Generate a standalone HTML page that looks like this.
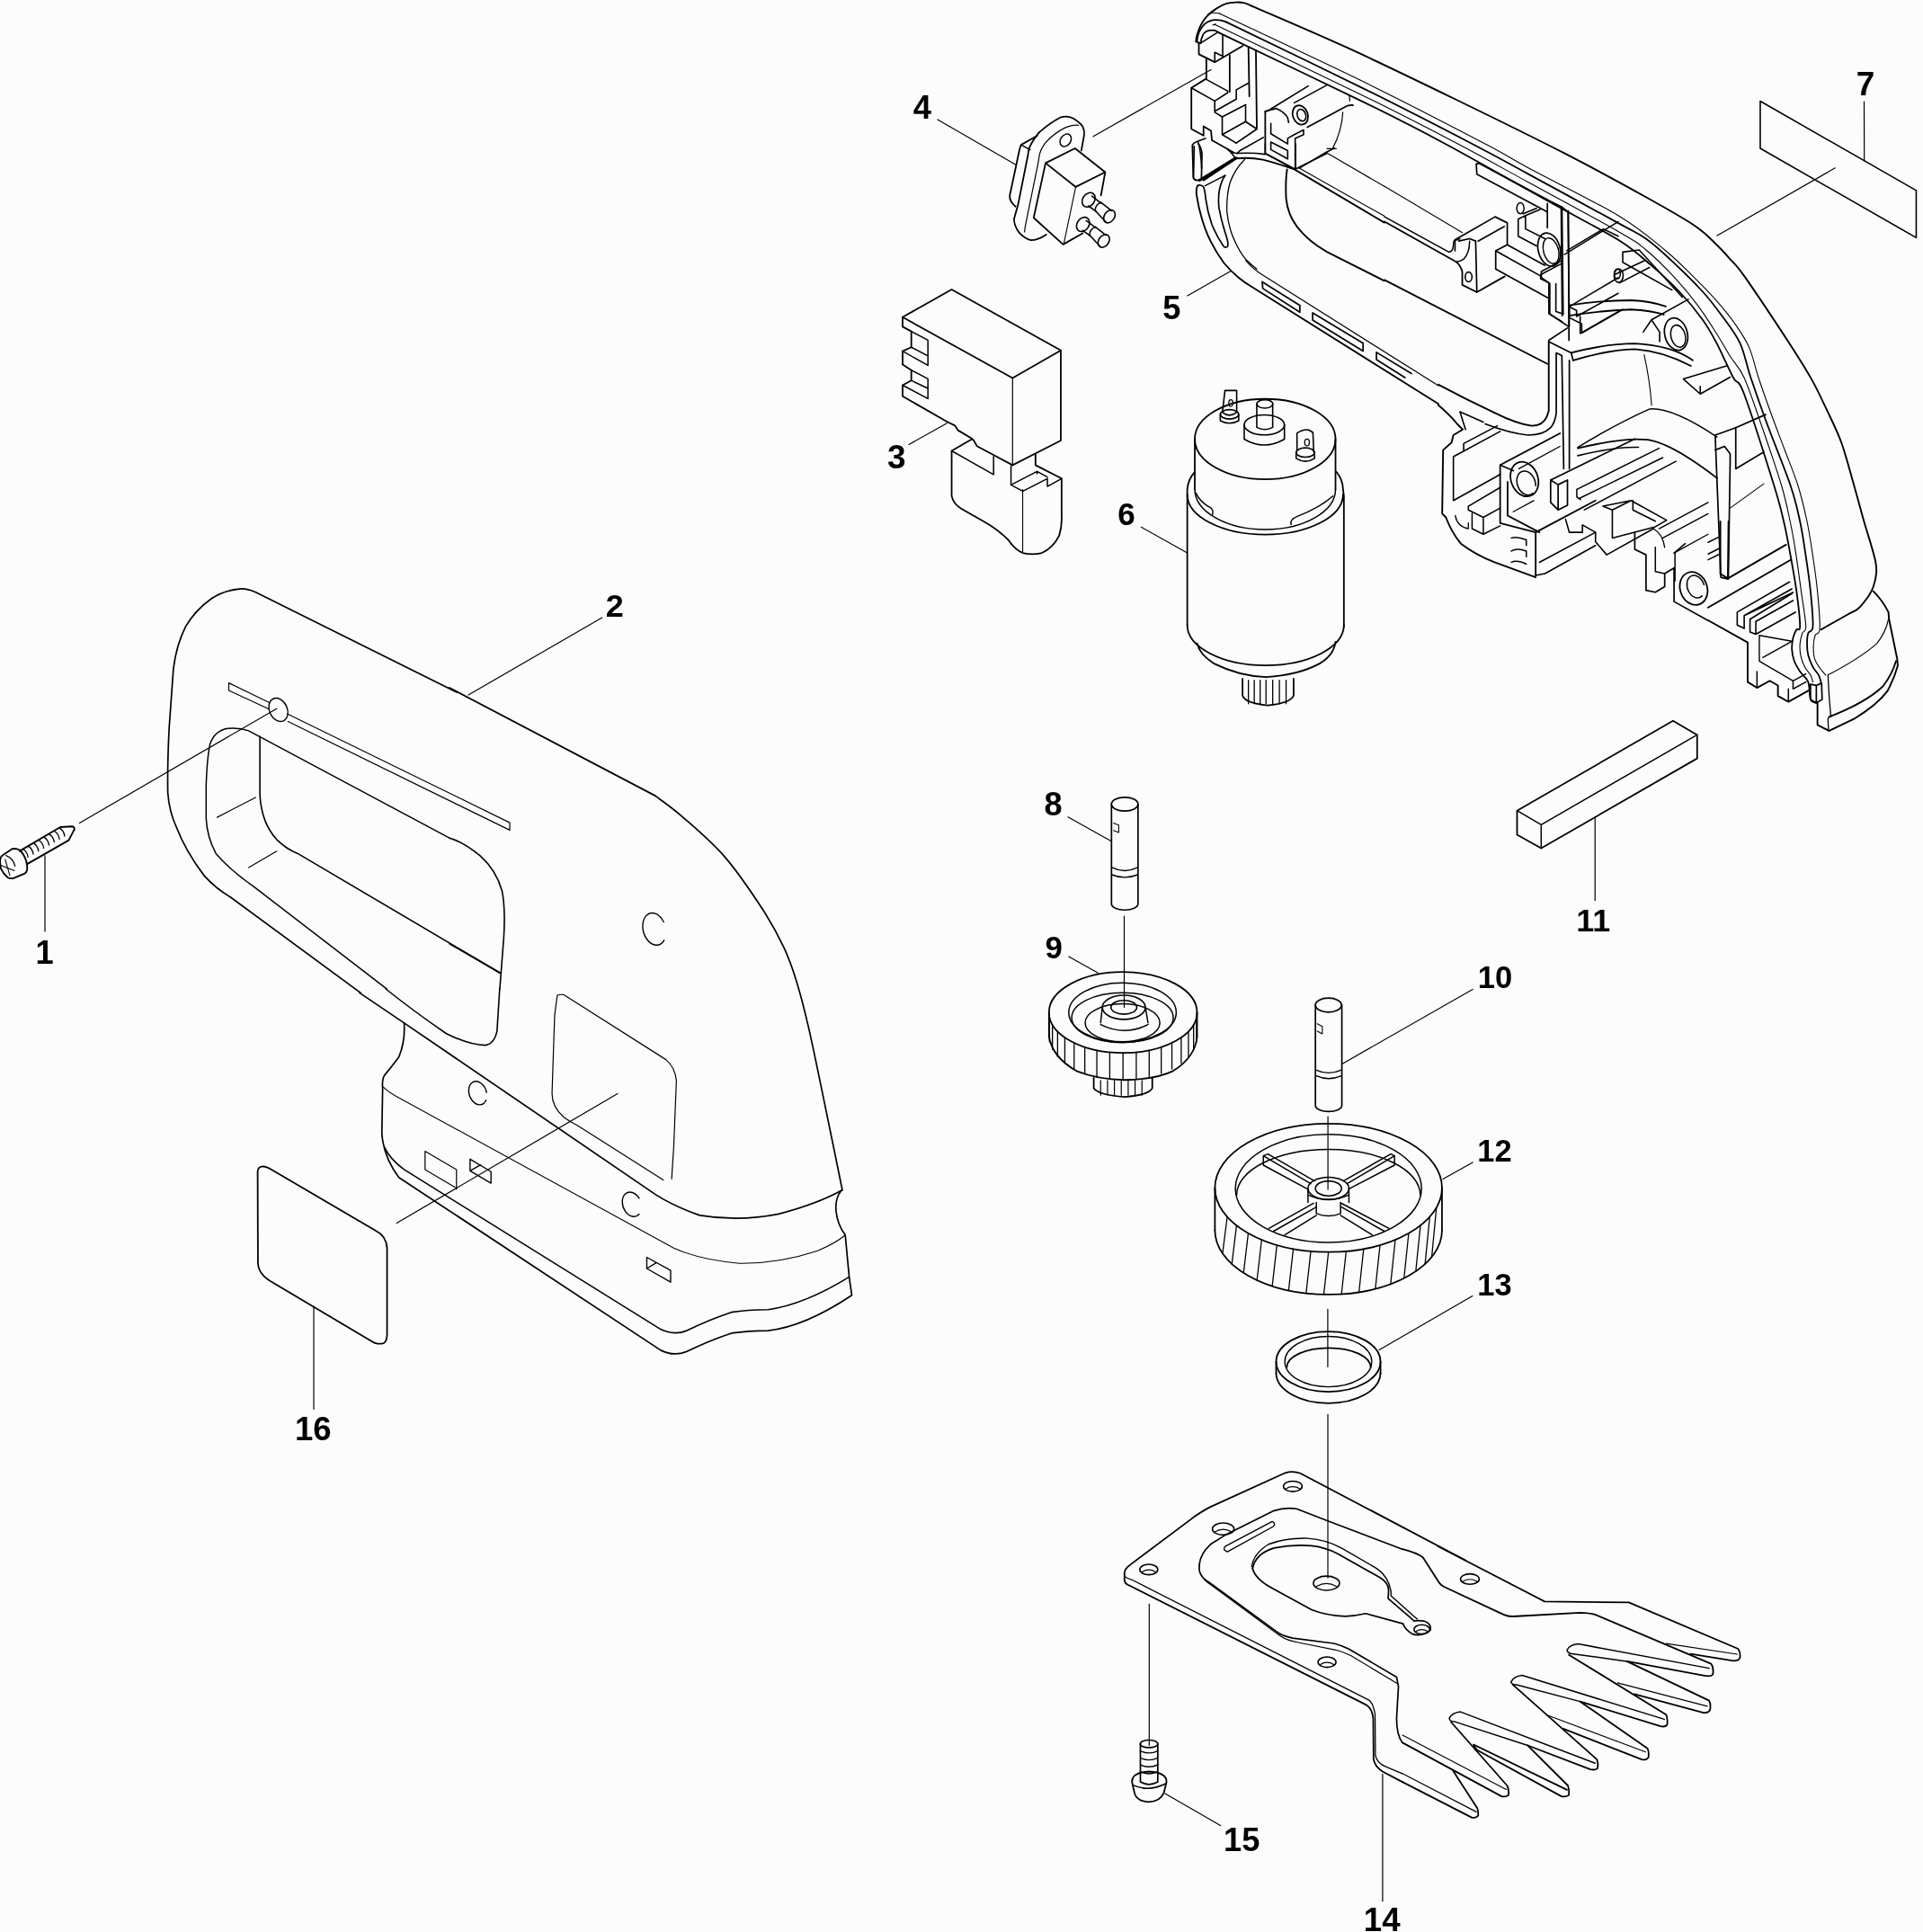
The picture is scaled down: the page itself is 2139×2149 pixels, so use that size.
<!DOCTYPE html>
<html><head><meta charset="utf-8"><style>
html,body{margin:0;padding:0;background:#fcfcfc;}
svg{display:block;filter:grayscale(1);}
path,ellipse{fill:none;stroke:#000;stroke-linejoin:round;stroke-linecap:round;vector-effect:non-scaling-stroke;}
text{font-family:"Liberation Sans",sans-serif;font-weight:bold;fill:#000;}
</style></head><body>
<svg xmlns="http://www.w3.org/2000/svg" width="2139" height="2149" viewBox="0 0 2139 2149">
<g transform="translate(170,640) scale(0.260010)">
<path d="M1300,500 L440,72 Q400,55 370,58 Q300,65 250,100 Q180,150 140,220 Q100,300 88,400 L70,650 Q62,800 64,930 Q70,1010 100,1075 Q140,1180 220,1285 Q270,1340 330,1375 L889,1786" stroke-width="1.7"/>
<path d="M500,545 L325,460 L325,492 L497,572 M575,592 L1527,1058 L1527,1090 L578,625" stroke-width="1.2"/>
<ellipse cx="537" cy="575" rx="38" ry="52" transform="rotate(-25 537 575)" stroke-width="1.4"/>
<path d="M1000,1769 L430,1330 Q330,1260 270,1190 Q232,1120 228,1040 L228,900 Q232,780 245,720 Q265,665 320,655 Q370,650 410,665 L1269,1123.5" stroke-width="1.5"/>
<path d="M458,690 L458,940 Q465,1060 530,1130 Q570,1170 620,1190 L1485,1700" stroke-width="1.6"/>
<path d="M275,1035 L440,950 M410,1250 L530,1180" stroke-width="1.2"/>
</g>
<g transform="translate(500,700) scale(0.260010)">
<path d="M0,250 L880,712" stroke-width="1.7"/>
<path d="M0,893 Q60,910 130,968 Q200,1030 225,1120 Q240,1200 232,1320 L215,1540" stroke-width="1.6"/>
<path d="M916,1252 A48,70 -15 1 0 918,1330" stroke-width="1.4"/>
<path d="M0,1345 L215,1470" stroke-width="1.6"/>
</g>
<g transform="translate(400,1100) scale(0.291212)">
<path d="M0,15 L170,130 L1130,785 Q1200,830 1300,865 Q1450,890 1600,860 Q1750,820 1840,770" stroke-width="1.7"/>
<path d="M170,130 Q175,200 150,260 Q120,300 95,330 Q85,345 88,380 L85,550 Q90,640 150,720 L1150,1380 Q1200,1405 1250,1385 Q1330,1345 1420,1315 Q1480,1305 1560,1305 Q1700,1290 1880,1170 L1870,1100 L1855,940 Q1825,900 1820,850 Q1815,800 1840,770" stroke-width="1.7"/>
<path d="M95,605 Q115,650 170,690 L1150,1300 Q1200,1325 1250,1305 Q1330,1265 1420,1235 Q1480,1225 1560,1225 Q1700,1205 1870,1100" stroke-width="1.6"/>
<path d="M90,375 Q110,395 140,410 L1200,990 Q1300,1035 1450,1048 Q1600,1050 1750,1000 Q1820,970 1855,940" stroke-width="1.1"/>
<path d="M100,0 Q200,80 330,170 Q420,215 480,215 Q515,210 525,160 L535,0" stroke-width="1.6"/>
<path d="M1192,725 L1200,600 L1210,350 Q1205,300 1170,270 L780,22 Q760,20 755,25 L745,100 L735,400 Q735,450 780,490 Q800,505 830,520 L1160,730" stroke-width="1.2"/>
<path d="M485,395 A33,46 -20 1 0 483,425" stroke-width="1.4"/>
<path d="M1068,800 A35,48 -20 1 0 1068,860" stroke-width="1.4"/>
<path d="M250,620 L370,690 L370,765 M250,620 L250,690 L365,758" stroke-width="1.2"/>
<path d="M422,650 L502,698 L502,742 L422,695 Z M422,695 L462,672" stroke-width="1.4"/>
<path d="M1097,1025 L1188,1075 L1188,1120 L1097,1068 Z M1097,1068 L1133,1046" stroke-width="1.4"/>
</g>
<g transform="translate(240,1280) scale(0.166407)">
<path d="M280,140 Q280,105 320,105 Q345,110 370,125 L1070,535 Q1140,570 1145,650 L1145,1235 Q1140,1290 1110,1290 L1080,1290 Q1060,1285 1040,1272 L380,880 Q285,830 282,750 Z" stroke-width="1.8"/>
</g>
<g transform="translate(0,880) scale(0.104004)">
<path d="M210,630 Q255,670 280,745 Q295,800 290,840 Q285,870 265,880 L150,930 Q110,940 85,925 Q40,890 10,830 Q-5,770 5,715 Q15,690 40,678 L130,618 Q170,610 210,630 Z" stroke-width="1.9"/>
<path d="M65,689 Q140,720 160,800" stroke-width="1.4"/>
<path d="M55,730 L105,900 M15,795 L155,850" stroke-width="1.1"/>
<path d="M210,640 L645,385 L770,378 Q800,382 795,410 L735,525 L290,780" stroke-width="1.9"/>
<path d="M245,620 Q290,645 300,705 M301,588 Q346,613 356,673 M357,556 Q402,581 412,641 M413,524 Q458,549 468,609 M469,492 Q514,517 524,577 M525,460 Q570,485 580,545 M581,428 Q626,453 636,513 M637,396 Q682,421 692,481" stroke-width="1.3"/>
</g>
<path d="M88.4,915.4 L307.8,788.2" stroke-width="1.2" vector-effect="none"/>
<path d="M50,951.8 L50,1036" stroke-width="1.2" vector-effect="none"/>
<path d="M521,773 L669.7,687.1" stroke-width="1.2" vector-effect="none"/>
<path d="M441.2,1360.6 L686.9,1216.5" stroke-width="1.2" vector-effect="none"/>
<path d="M349,1453 L349,1567.4" stroke-width="1.2" vector-effect="none"/>
<path d="M728.8,885.1 C734,889.13 747.03,897.88 760,909.3 C772.97,920.72 791.85,936.52 806.6,953.6 C821.35,970.68 837.63,995.12 848.5,1011.8 C859.37,1028.48 865.58,1040.5 871.8,1053.7 C878.02,1066.9 881.13,1075.85 885.8,1091 C890.47,1106.15 894.37,1120.92 899.8,1144.6 C905.23,1168.28 912.2,1203.2 918.4,1233.1 C924.6,1263 933.9,1308.85 937,1324" stroke-width="1.7" vector-effect="none"/>
<g transform="translate(1000,80) scale(0.156006)">
<path d="M985,455 L870,520 L860,550 L790,880 Q785,920 830,960" stroke-width="1.8"/>
<path d="M870,520 L935,555" stroke-width="1.5"/>
<path d="M1000,430 Q1080,360 1150,325 Q1200,310 1240,330 Q1290,360 1310,390 Q1325,420 1320,450 L1300,560" stroke-width="1.8"/>
<path d="M1000,430 Q950,490 930,540 Q920,570 920,590 L850,940 L820,1050 Q820,1100 860,1150 Q900,1190 940,1200 Q990,1200 1050,1160" stroke-width="1.8"/>
<path d="M1280,380 Q1240,375 1180,400 Q1100,440 1040,510 Q1005,560 1000,600 L990,660 L900,1100 L895,1140" stroke-width="1.2"/>
<ellipse cx="1188" cy="487" rx="36" ry="48" transform="rotate(35 1188 487)" stroke-width="1.5"/>
<path d="M1045,650 L1255,545 L1470,715 L1260,820 Z" stroke-width="1.8"/>
<path d="M1045,650 L960,1040 L1170,1230 L1310,1150 M1470,715 L1440,880" stroke-width="1.8"/>
<path d="M1260,820 L1175,1225" stroke-width="1.1"/>
<ellipse cx="1352" cy="912" rx="42" ry="55" transform="rotate(35 1352 912)" stroke-width="1.6"/>
<path d="M1375,885 L1440,935 M1350,955 L1405,995" stroke-width="1.6"/>
<path d="M1440,930 L1515,990 M1400,990 L1475,1070 M1440,930 Q1395,950 1400,990" stroke-width="1.6"/>
<ellipse cx="1500" cy="1030" rx="36" ry="50" transform="rotate(35 1500 1030)" stroke-width="1.6"/>
<ellipse cx="1312" cy="1087" rx="42" ry="55" transform="rotate(35 1312 1087)" stroke-width="1.6"/>
<path d="M1335,1060 L1400,1110 M1310,1130 L1365,1170" stroke-width="1.6"/>
<path d="M1400,1105 L1475,1165 M1360,1165 L1435,1245 M1400,1105 Q1355,1125 1360,1165" stroke-width="1.6"/>
<ellipse cx="1460" cy="1205" rx="36" ry="50" transform="rotate(35 1460 1205)" stroke-width="1.6"/>
</g>
<path d="M1042.9,133 L1129.5,183" stroke-width="1.2" vector-effect="none"/>
<path d="M1216,151.8 L1347,77.5" stroke-width="1.2" vector-effect="none"/>
<g transform="translate(960,300) scale(0.175983)">
<path d="M250,300 L560,125 L1250,510 L945,685 Z" stroke-width="1.8"/>
<path d="M1250,510 L1250,1080 L945,1235" stroke-width="1.8"/>
<path d="M945,685 L945,1235" stroke-width="1.2"/>
<path d="M250,300 L250,360 L305,390 L305,490 L250,515 L250,600 L305,635 L305,700 L250,730 L250,800 L530,960 L580,985 L600,1015 L685,1065 L700,1080 L720,1115 L945,1235" stroke-width="1.8"/>
<path d="M305,390 L410,445 L410,605 L250,515 M305,490 L410,545 M305,635 L410,690 L410,815 L250,730 M305,700 L410,750" stroke-width="1.5"/>
<path d="M690,1070 L560,1145 L560,1430 Q570,1480 620,1510 L760,1590 Q850,1640 920,1710 Q960,1770 1010,1790 Q1070,1805 1130,1790 Q1200,1760 1240,1680 Q1258,1620 1255,1560 L1255,1320 L1090,1235 L1090,1165" stroke-width="1.8"/>
<path d="M560,1145 L825,1295 L825,1180" stroke-width="1.5"/>
<path d="M1009,1390 L1009,1787" stroke-width="1.1"/>
<path d="M935,1240 L935,1360 L1010,1400 L1165,1320 L1165,1370 L1255,1320 M935,1360 L1100,1275 L1165,1310 M1100,1275 L1100,1290" stroke-width="1.5"/>
</g>
<path d="M1011,494.4 L1053.3,470.7" stroke-width="1.2" vector-effect="none"/>
<g transform="translate(1220,440) scale(0.186335)">
<ellipse cx="1005" cy="260" rx="420" ry="240" transform="rotate(0 1005 260)" stroke-width="1.8"/>
<path d="M585,260 L585,560 M1425,260 L1425,560" stroke-width="1.8"/>
<path d="M585,455 Q545,500 540,560 L540,600 M1430,455 Q1468,500 1470,560 L1475,600" stroke-width="1.8"/>
<path d="M540,590 A465,240 0 0 0 1470,590" stroke-width="1.8"/>
<path d="M585,560 A420,240 0 0 0 1425,560" stroke-width="1.5"/>
<path d="M590,580 Q620,640 680,670 Q700,690 690,710 M1160,770 Q1150,740 1200,720 Q1330,670 1410,600" stroke-width="1.5"/>
<path d="M540,600 L540,1370 M1475,600 L1475,1380" stroke-width="1.8"/>
<path d="M540,1370 A467,240 0 0 0 1475,1370" stroke-width="1.8"/>
<path d="M600,1480 Q610,1540 700,1600 Q850,1675 1010,1680 Q1200,1670 1330,1600 Q1415,1550 1425,1470" stroke-width="1.8"/>
<path d="M870,1690 L870,1790 Q880,1835 1020,1850 Q1160,1835 1175,1790 L1175,1690" stroke-width="1.8"/>
<path d="M905,1700 L905,1840 M940,1700 L940,1840 M975,1700 L975,1840 M1010,1700 L1010,1840 M1050,1700 L1050,1840 M1090,1700 L1090,1840 M1130,1700 L1130,1840" stroke-width="1.3"/>
<path d="M955,50 L955,190 Q1003,215 1050,190 L1050,50" stroke-width="1.6"/>
<ellipse cx="1003" cy="50" rx="48" ry="25" transform="rotate(0 1003 50)" stroke-width="1.6"/>
<ellipse cx="1000" cy="175" rx="120" ry="60" transform="rotate(0 1000 175)" stroke-width="1.6"/>
<path d="M880,175 L880,260 Q1000,330 1120,260 L1120,175" stroke-width="1.6"/>
<path d="M765,-30 L750,100 Q790,135 835,100 L835,-30 Z" stroke-width="1.6"/>
<ellipse cx="800" cy="45" rx="12" ry="20" transform="rotate(0 800 45)" stroke-width="1.3"/>
<ellipse cx="792" cy="112" rx="55" ry="28" transform="rotate(0 792 112)" stroke-width="1.6"/>
<path d="M737,112 L737,150 Q792,180 847,150 L847,112" stroke-width="1.6"/>
<path d="M1195,330 L1195,225 Q1230,200 1265,205 L1290,220 L1295,335" stroke-width="1.6"/>
<ellipse cx="1255" cy="280" rx="14" ry="20" transform="rotate(0 1255 280)" stroke-width="1.3"/>
<ellipse cx="1245" cy="340" rx="55" ry="28" transform="rotate(0 1245 340)" stroke-width="1.6"/>
<path d="M1190,340 L1190,375 Q1245,410 1300,375 L1300,340" stroke-width="1.6"/>
</g>
<path d="M1269.4,586.3 L1320.6,615.1" stroke-width="1.2" vector-effect="none"/>
<g transform="translate(1140,860) scale(0.191511)">
<ellipse cx="580" cy="180" rx="77" ry="40" transform="rotate(0 580 180)" stroke-width="1.7"/>
<path d="M503,180 L503,760 A77,35 0 0 0 657,760 L657,180" stroke-width="1.7"/>
<path d="M505,548 Q580,585 655,548 M505,590 Q580,620 655,590" stroke-width="1.4"/>
<path d="M515,290 L545,302 L545,345 L515,333" stroke-width="1.1"/>
<ellipse cx="570" cy="1390" rx="430" ry="235" transform="rotate(0 570 1390)" stroke-width="1.8"/>
<path d="M140,1390 L140,1530 M1000,1390 L1000,1530" stroke-width="1.8"/>
<path d="M140,1530 Q160,1650 300,1730 Q420,1778 580,1782 Q760,1778 860,1730 Q990,1650 1000,1530" stroke-width="1.8"/>
<path d="M143,1419 L143,1561 M160,1461 L160,1605 M190,1500 L190,1647 M232,1535 L232,1685 M286,1566 L286,1718 M348,1591 L348,1744 M418,1610 L418,1764 M493,1621 L493,1776 M570,1625 L570,1780 M647,1621 L647,1776 M722,1610 L722,1764 M792,1591 L792,1744 M854,1566 L854,1718 M908,1535 L908,1685 M950,1500 L950,1647 M980,1461 L980,1605 M997,1419 L997,1561" stroke-width="1.3"/>
<ellipse cx="567" cy="1390" rx="312" ry="172" transform="rotate(0 567 1390)" stroke-width="1.5"/>
<ellipse cx="567" cy="1420" rx="295" ry="145" transform="rotate(0 567 1420)" stroke-width="1.5"/>
<ellipse cx="567" cy="1450" rx="217" ry="110" transform="rotate(0 567 1450)" stroke-width="1.5"/>
<ellipse cx="575" cy="1360" rx="125" ry="70" transform="rotate(0 575 1360)" stroke-width="1.6"/>
<ellipse cx="575" cy="1360" rx="75" ry="40" transform="rotate(0 575 1360)" stroke-width="1.6"/>
<path d="M450,1360 L440,1450 M700,1360 L715,1450 M440,1460 Q580,1530 715,1460" stroke-width="1.5"/>
<path d="M400,1770 L400,1830 Q430,1870 580,1880 Q720,1870 740,1830 L740,1770" stroke-width="1.8"/>
<path d="M440,1785 L440,1870 M480,1785 L480,1870 M520,1785 L520,1870 M560,1785 L560,1870 M600,1785 L600,1870 M640,1785 L640,1870 M680,1785 L680,1870" stroke-width="1.2"/>
</g>
<path d="M1187.9,908.8 L1235.8,935.6" stroke-width="1.2" vector-effect="none"/>
<path d="M1250.5,1019 L1250.5,1120.4" stroke-width="1.2" vector-effect="none"/>
<path d="M1188.8,1064 L1221.4,1082.2" stroke-width="1.2" vector-effect="none"/>
<g transform="translate(1340,1060) scale(0.207039)">
<ellipse cx="665" cy="280" rx="70" ry="38" transform="rotate(0 665 280)" stroke-width="1.7"/>
<path d="M595,280 L595,820 A71,32 0 0 0 737,820 L737,280" stroke-width="1.7"/>
<path d="M597,628 Q665,660 735,628 M600,660 Q665,690 735,660" stroke-width="1.4"/>
<path d="M605,380 L632,395 L632,435 L605,420" stroke-width="1.1"/>
<ellipse cx="665" cy="1262" rx="610" ry="345" transform="rotate(0 665 1262)" stroke-width="1.8"/>
<ellipse cx="665" cy="1265" rx="500" ry="290" transform="rotate(0 665 1265)" stroke-width="1.5"/>
<path d="M172,1300 A493,245 0 0 1 1158,1300" stroke-width="1.5"/>
<path d="M55,1262 L55,1490 M1275,1262 L1275,1490" stroke-width="1.8"/>
<path d="M55,1490 A610,345 0 0 0 1275,1490" stroke-width="1.8"/>
<path d="M121,1419 L96,1615 M171,1465 L146,1672 M234,1506 L209,1719 M306,1541 L281,1758 M388,1569 L363,1790 M476,1590 L451,1813 M570,1603 L545,1828 M665,1607 L640,1835 M760,1603 L735,1833 M854,1590 L829,1822 M942,1569 L917,1804 M1024,1541 L999,1779 M1096,1506 L1071,1747 M1159,1465 L1134,1711 M1209,1419 L1184,1672 M1245,1369 L1220,1633" stroke-width="1.3"/>
<path d="M315,1140 L315,1090 L340,1080 L590,1225 M315,1090 L570,1240 M315,1140 L555,1270" stroke-width="1.5"/>
<path d="M1020,1140 L1020,1090 L1000,1080 L745,1225 M1020,1090 L765,1240 M1020,1140 L780,1265" stroke-width="1.5"/>
<path d="M345,1480 L585,1345 M370,1495 L600,1365 M430,1515 L600,1410" stroke-width="1.5"/>
<path d="M990,1480 L735,1345 M965,1495 L735,1365 M900,1515 L730,1410" stroke-width="1.5"/>
<ellipse cx="665" cy="1265" rx="110" ry="60" transform="rotate(0 665 1265)" stroke-width="1.6"/>
<ellipse cx="665" cy="1265" rx="70" ry="40" transform="rotate(0 665 1265)" stroke-width="1.6"/>
<path d="M555,1265 L555,1340 M775,1265 L775,1340 M555,1300 Q665,1350 775,1300" stroke-width="1.5"/>
<path d="M600,1340 L600,1400 Q665,1425 730,1400 L730,1340" stroke-width="1.5"/>
</g>
<path d="M1493.2,1183.2 L1638.1,1100.4" stroke-width="1.2" vector-effect="none"/>
<path d="M1477.1,1242.2 L1477.1,1323" stroke-width="1.2" vector-effect="none"/>
<path d="M1605,1311.5 L1638.1,1292.9" stroke-width="1.2" vector-effect="none"/>
<g transform="translate(1400,1440) scale(0.156006)">
<ellipse cx="497" cy="478" rx="372" ry="215" transform="rotate(0 497 478)" stroke-width="1.8"/>
<ellipse cx="497" cy="478" rx="310" ry="180" transform="rotate(0 497 478)" stroke-width="1.4"/>
<path d="M200,520 A300,140 0 0 1 800,520" stroke-width="1.8"/>
<path d="M125,478 L125,560 M869,478 L869,565" stroke-width="1.8"/>
<path d="M125,560 A372,215 0 0 0 869,560" stroke-width="1.8"/>
</g>
<path d="M1534.2,1501.6 L1637.9,1441.6" stroke-width="1.2" vector-effect="none"/>
<path d="M1476.9,1456.4 L1476.9,1520.3" stroke-width="1.2" vector-effect="none"/>
<path d="M1477,1573.4 L1477,1755.2" stroke-width="1.2" vector-effect="none"/>
<g transform="translate(1670,780) scale(0.124805)">
<path d="M140,975 L1530,175 L1745,300 L1745,510 L355,1310 L140,1190 Z" stroke-width="1.8"/>
<path d="M140,975 L355,1100 L1745,300 M355,1100 L355,1310" stroke-width="1.5"/>
</g>
<path d="M1774.2,908.6 L1774.2,1001.6" stroke-width="1.2" vector-effect="none"/>
<g transform="translate(1700,100) scale(0.228289)">
<path d="M1130,55 L1890,490 L1890,720 L1130,285 Z" stroke-width="1.6"/>
</g>
<path d="M2073.5,113.1 L2073.7,178.8" stroke-width="1.2" vector-effect="none"/>
<path d="M1910,262.1 L2041.3,186.8" stroke-width="1.2" vector-effect="none"/>
<g transform="translate(1230,1620) scale(0.208008)">
<path d="M1923,555 L1040,90 Q1000,75 960,88 L560,270 Q520,290 470,325 L130,580 Q100,600 100,625 L100,665 Q105,685 130,692 L1395,1330 Q1425,1350 1430,1400 L1432,1620 Q1440,1660 1480,1685 L1586,1741" stroke-width="1.8"/>
<path d="M100,640 Q110,650 140,660 L1410,1305 Q1432,1325 1440,1380 L1442,1600 Q1450,1640 1500,1660 L1586,1696" stroke-width="1.3"/>
<path d="M500,580 L500,610 Q510,650 545,668 L925,945 Q950,962 1000,972 L1220,1000 Q1260,1010 1300,1030 L1555,1180 L1565,1230 L1555,1400 Q1555,1490 1586,1531" stroke-width="1.7"/>
<path d="M505,625 Q525,665 560,685 L935,962 Q970,985 1030,995 L1230,1035 Q1270,1045 1310,1065 L1560,1215" stroke-width="1.2"/>
<path d="M500,580 Q505,520 560,470 L640,420 L900,290 Q960,270 1020,280 L1200,350 L1586,496" stroke-width="1.7"/>
<path d="M780,590 Q790,520 870,470 Q960,435 1080,438 Q1180,445 1260,490 L1450,600 Q1510,640 1525,720 L1525,745 L1665,870" stroke-width="1.4"/>
<path d="M785,600 Q800,520 900,490 Q1000,470 1100,478 Q1170,485 1240,520 L1470,650 Q1515,680 1512,720 L1510,760 L1650,880" stroke-width="1.7"/>
<path d="M785,600 Q800,660 900,710 L1100,820 Q1180,852 1280,855 Q1340,852 1390,840 L1590,895 Q1600,925 1640,950 Q1690,965 1735,930 Q1745,895 1700,880 Q1670,875 1650,880" stroke-width="1.7"/>
<path d="M650,510 L895,375 Q912,360 890,348 L640,480 Q620,497 650,510 Z" stroke-width="1.4"/>
<ellipse cx="1000" cy="160" rx="50" ry="28" transform="rotate(0 1000 160)" stroke-width="1.6"/>
<path d="M962.5,172.6 Q1000,150.2 1037.5,172.6" stroke-width="1.2"/>
<ellipse cx="230" cy="605" rx="48" ry="28" transform="rotate(0 230 605)" stroke-width="1.6"/>
<path d="M194,617.6 Q230,595.2 266,617.6" stroke-width="1.2"/>
<ellipse cx="628" cy="388" rx="58" ry="32" transform="rotate(0 628 388)" stroke-width="1.6"/>
<path d="M584.5,402.4 Q628,376.8 671.5,402.4" stroke-width="1.2"/>
<ellipse cx="1180" cy="678" rx="70" ry="38" transform="rotate(0 1180 678)" stroke-width="1.6"/>
<path d="M1127.5,695.1 Q1180,664.7 1232.5,695.1" stroke-width="1.2"/>
<ellipse cx="1183" cy="1100" rx="48" ry="28" transform="rotate(0 1183 1100)" stroke-width="1.6"/>
<path d="M1147,1112.6 Q1183,1090.2 1219,1112.6" stroke-width="1.2"/>
<ellipse cx="1690" cy="925" rx="42" ry="25" transform="rotate(0 1690 925)" stroke-width="1.6"/>
<path d="M1658.5,936.25 Q1690,916.25 1721.5,936.25" stroke-width="1.2"/>
<ellipse cx="1947" cy="656" rx="50" ry="28" transform="rotate(0 1947 656)" stroke-width="1.6"/>
<path d="M1909.5,668.6 Q1947,646.2 1984.5,668.6" stroke-width="1.2"/>
<ellipse cx="231" cy="1537" rx="47" ry="20" transform="rotate(0 231 1537)" stroke-width="1.6"/>
<path d="M185,1537 L185,1740 Q231,1768 278,1740 L278,1537" stroke-width="1.7"/>
<path d="M185,1575 Q231,1597 278,1575 M185,1612 Q231,1634 278,1612 M185,1649 Q231,1671 278,1649 M185,1686 Q231,1708 278,1686" stroke-width="1.4"/>
<path d="M140,1740 Q140,1690 231,1685 Q325,1690 325,1740 L310,1800 Q290,1845 231,1848 Q170,1845 155,1805 Z" stroke-width="1.8"/>
<path d="M145,1758 Q231,1795 320,1750" stroke-width="1.5"/>
</g>
<g transform="translate(1560,1720) scale(0.208008)">
<path d="M190,0 L760,295 L1210,300 L1795,548 Q1808,565 1805,595 Q1800,612 1770,612 L1540,575" stroke-width="1.8"/>
<path d="M1410,520 L1790,577" stroke-width="1.2"/>
<path d="M0,15 Q80,35 110,60 L190,185 Q205,210 230,220 L540,365 Q565,376 590,375 L950,355 Q1000,356 1030,365 L1650,628 Q1665,645 1660,685 Q1650,698 1615,692 L1200,615" stroke-width="1.8"/>
<path d="M1640,652 L940,522 Q895,525 880,555 Q882,572 905,574 L1200,615" stroke-width="1.5"/>
<path d="M1200,615 L1640,825 Q1650,845 1645,875 Q1635,893 1610,890 L1240,790" stroke-width="1.8"/>
<path d="M1150,730 L1630,855" stroke-width="1.2"/>
<path d="M890,580 L1410,900 Q1420,925 1415,955 Q1405,968 1380,962 L950,830" stroke-width="1.8"/>
<path d="M1400,925 L640,690 Q595,695 580,725 Q585,742 610,740 L950,830" stroke-width="1.5"/>
<path d="M950,830 L1310,1080 Q1320,1100 1315,1130 Q1305,1145 1280,1140 L860,975" stroke-width="1.8"/>
<path d="M780,905 L1300,1100" stroke-width="1.2"/>
<path d="M590,740 L1040,1140 Q1048,1160 1043,1188 Q1030,1198 1005,1193 L670,1065" stroke-width="1.8"/>
<path d="M1030,1160 L310,885 Q265,890 250,920 Q255,938 280,938 L670,1065" stroke-width="1.5"/>
<path d="M670,1065 L885,1280 Q893,1300 890,1330 Q875,1342 850,1337 L400,1090 Q385,1075 380,1060 L880,1302" stroke-width="1.8"/>
<path d="M260,940 L560,1280 Q570,1300 567,1330 Q555,1342 530,1337 L0,1050" stroke-width="1.8"/>
<path d="M0,1010 L555,1300" stroke-width="1.2"/>
<path d="M270,1200 L400,1400 Q408,1420 405,1440 Q395,1455 370,1450 L0,1260" stroke-width="1.8"/>
<path d="M0,1215 L395,1420" stroke-width="1.2"/>
</g>
<path d="M1278.3,1784.3 L1278.3,1941.4" stroke-width="1.2" vector-effect="none"/>
<path d="M1295.9,1995.1 L1357.5,2030.6" stroke-width="1.2" vector-effect="none"/>
<path d="M1537.9,1973.6 L1537.9,2114.8" stroke-width="1.2" vector-effect="none"/>
<path d="M1330.4,45.8 C1330.57,44.75 1330.53,42.45 1331.4,39.5 C1332.27,36.55 1333.68,31.73 1335.6,28.1 C1337.52,24.47 1339.95,20.82 1342.9,17.7 C1345.85,14.58 1349.83,11.65 1353.3,9.4 C1356.77,7.15 1360.23,5.33 1363.7,4.2 C1367.17,3.07 1370.82,2.78 1374.1,2.6 C1377.38,2.42 1380.28,2.4 1383.4,3.1 C1386.52,3.8 1391.23,6.18 1392.8,6.8 " stroke-width="1.9" vector-effect="none"/>
<path d="M1392.8,6.8 C1410.67,14.62 1462.13,36.33 1500,53.7 C1537.87,71.07 1580,91.55 1620,111 C1660,130.45 1704.63,152.23 1740,170.4 C1775.37,188.57 1807.98,206.53 1832.2,220 C1856.42,233.47 1872.47,242.53 1885.3,251.2 C1898.13,259.87 1902.62,265.77 1909.2,272 C1915.78,278.23 1919.6,282.7 1924.8,288.6 C1930,294.5 1929.68,292.17 1940.4,307.4 C1951.12,322.63 1976.68,360.97 1989.1,380 C2001.52,399.03 2007.83,409.12 2014.9,421.6 C2021.97,434.08 2025.95,443.12 2031.5,454.9 C2037.05,466.68 2043.07,478.12 2048.2,492.3 C2053.33,506.48 2058.1,525.38 2062.3,540 C2066.5,554.62 2070.25,569.02 2073.4,580 C2076.55,590.98 2079.05,598.35 2081.2,605.9 C2083.35,613.45 2085.33,619.92 2086.3,625.3 C2087.27,630.68 2087.42,633.67 2087,638.2 C2086.58,642.73 2085.2,648.4 2083.8,652.5 C2082.4,656.6 2081.42,658.72 2078.6,662.8 C2075.78,666.88 2070.78,673.55 2066.9,677 C2063.02,680.45 2062.2,679.62 2055.3,683.5 C2048.4,687.38 2030.47,697.5 2025.5,700.3" stroke-width="1.9" vector-effect="none"/>
<path d="M1356.4,15.1 C1383.67,28.02 1470.73,68.45 1520,92.6 C1569.27,116.75 1622,144.3 1652,160 C1682,175.7 1675.33,173.5 1700,186.8 C1724.67,200.1 1774.67,224.57 1800,239.8 C1825.33,255.03 1838.13,266.93 1852,278.2 C1865.87,289.47 1873.67,298.03 1883.2,307.4 C1892.73,316.77 1901.4,325.57 1909.2,334.4 C1917,343.23 1923.93,351.73 1930,360.4 C1936.07,369.07 1941.27,376.47 1945.6,386.4 C1949.93,396.33 1951.93,407.73 1956,420 C1960.07,432.27 1965.17,446.67 1970,460 C1974.83,473.33 1980.02,486.67 1985,500 C1989.98,513.33 1995.73,526.67 1999.9,540 C2004.07,553.33 2007.23,566.87 2010,580 C2012.77,593.13 2014.57,605.87 2016.5,618.8 C2018.43,631.73 2020.32,644.23 2021.6,657.6 C2022.88,670.97 2024.63,690.8 2024.2,699 C2023.77,707.2 2020.18,703.33 2019,706.8 C2017.82,710.27 2017.2,715.48 2017.1,719.8 C2017,724.12 2017.22,728.83 2018.4,732.7 C2019.58,736.57 2022.15,739.98 2024.2,743 C2026.25,746.02 2029.62,749.5 2030.7,750.8" stroke-width="1.1" vector-effect="none"/>
<path d="M1363.7,24.4 C1389.75,37.02 1474.37,77.5 1520,100.1 C1565.63,122.7 1607.5,144.42 1637.5,160 C1667.5,175.58 1672.92,178.92 1700,193.6 C1727.08,208.28 1778.13,236.07 1800,248.1 C1821.87,260.13 1820.8,258.35 1831.2,265.8 C1841.6,273.25 1852,283.1 1862.4,292.8 C1872.8,302.5 1884.93,314.47 1893.6,324 C1902.27,333.53 1907.47,340.47 1914.4,350 C1921.33,359.53 1929.7,369.53 1935.2,381.2 C1940.7,392.87 1942.43,405.2 1947.4,420 C1952.37,434.8 1957.63,450 1965,470 C1972.37,490 1985.4,521.67 1991.6,540 C1997.8,558.33 1999.35,566.87 2002.2,580 C2005.05,593.13 2006.75,605.87 2008.7,618.8 C2010.65,631.73 2012.6,644.65 2013.9,657.6 C2015.2,670.55 2016.93,688.73 2016.5,696.5 C2016.07,704.27 2012.38,700.97 2011.3,704.2 C2010.22,707.43 2010,711.8 2010,715.9 C2010,720 2010.22,724.48 2011.3,728.8 C2012.38,733.12 2014.57,738.13 2016.5,741.8 C2018.43,745.47 2021.4,748 2022.9,750.8 C2024.4,753.6 2025.07,757.3 2025.5,758.6" stroke-width="1.8" vector-effect="none"/>
<path d="M1351.2,27.2 C1379.33,40.7 1474.93,86.07 1520,108.2 C1565.07,130.33 1591.6,144.25 1621.6,160 C1651.6,175.75 1670.27,186.47 1700,202.7 C1729.73,218.93 1778.13,244.82 1800,257.4 C1821.87,269.98 1820.8,269.7 1831.2,278.2 C1841.6,286.7 1852.87,298.17 1862.4,308.4 C1871.93,318.63 1880.6,329.2 1888.4,339.6 C1896.2,350 1903.13,361.27 1909.2,370.8 C1915.27,380.33 1919.67,388.6 1924.8,396.8 C1929.93,405 1934.13,406.97 1940,420 C1945.87,433.03 1953.07,455 1960,475 C1966.93,495 1976.4,522.5 1981.6,540 C1986.8,557.5 1988.62,567.95 1991.2,580 C1993.78,592.05 1995.05,599.37 1997.1,612.3 C1999.15,625.23 2001.57,643.57 2003.5,657.6 C2005.43,671.63 2008.48,688.73 2008.7,696.5 C2008.92,704.27 2005.88,700.97 2004.8,704.2 C2003.72,707.43 2002.52,711.8 2002.2,715.9 C2001.88,720 2002.03,724.48 2002.9,728.8 C2003.77,733.12 2005.57,738.13 2007.4,741.8 C2009.23,745.47 2012.38,748 2013.9,750.8 C2015.42,753.6 2016.07,757.3 2016.5,758.6" stroke-width="1.1" vector-effect="none"/>
<path d="M1355.9,36.4 C1383.25,49.52 1478.05,94.5 1520,115.1 C1561.95,135.7 1573.17,141.47 1607.6,160 C1642.03,178.53 1694.53,208.5 1726.6,226.3 C1758.67,244.1 1781.7,255.37 1800,266.8 C1818.3,278.23 1825.13,285.37 1836.4,294.9 C1847.67,304.43 1858.07,313.95 1867.6,324 C1877.13,334.05 1886.67,345.67 1893.6,355.2 C1900.53,364.73 1903.48,370.4 1909.2,381.2 C1914.92,392 1922.77,410.5 1927.9,420 C1933.03,429.5 1932.43,418.2 1940,438.2 C1947.57,458.2 1965.95,516.37 1973.3,540 C1980.65,563.63 1981.22,567.95 1984.1,580 C1986.98,592.05 1988.23,599.37 1990.6,612.3 C1992.97,625.23 1996.37,643.57 1998.3,657.6 C2000.23,671.63 2002.2,689.38 2002.2,696.5 C2002.2,703.62 1999.58,698.15 1998.3,700.3 C1997.02,702.45 1995.35,705.73 1994.5,709.4 C1993.65,713.07 1992.98,717.98 1993.2,722.3 C1993.42,726.62 1994.3,731.2 1995.8,735.3 C1997.3,739.4 1999.62,743.02 2002.2,746.9 C2004.78,750.78 2009.35,753.42 2011.3,758.6 C2013.25,763.78 2012.4,774.12 2013.9,778 C2015.4,781.88 2019.23,781.25 2020.3,781.9" stroke-width="1.8" vector-effect="none"/>
<g transform="translate(1320,0) scale(0.104004)">
<path d="M230,150 Q290,128 350,145" stroke-width="1.1"/>
<path d="M110,440 Q118,330 190,258 Q245,212 310,212 Q370,212 420,235" stroke-width="1.8"/>
<path d="M280,268 L310,258" stroke-width="1.1"/>
<path d="M150,460 Q158,370 210,335 Q250,318 300,325 Q330,333 345,350" stroke-width="1.8"/>
<path d="M100,445 L150,462" stroke-width="1.8"/>
<path d="M130,460 L130,580 L300,665 L600,490" stroke-width="1.8"/>
<path d="M300,560 L300,665 M300,560 L385,600 M385,380 L385,600" stroke-width="1.6"/>
<path d="M150,460 L325,350" stroke-width="1.6"/>
<path d="M210,620 L210,840 L50,940 L50,1380 L180,1450 L180,1350 L260,1400 L270,1500 L500,1630" stroke-width="1.8"/>
<path d="M50,940 L300,1080 L440,990 M210,850 L440,975 L440,990" stroke-width="1.6"/>
<path d="M300,1080 L300,1200 L380,1250 L630,1120 M300,1190 L530,1060 L530,960 L660,890" stroke-width="1.6"/>
<path d="M380,1250 L380,1440 L530,1530 M380,1440 L630,1300 L630,1120" stroke-width="1.6"/>
<path d="M460,590 L460,980 M660,500 L670,1030 M740,540 L750,1380 L530,1530 M630,1300 L750,1380" stroke-width="1.8"/>
<path d="M840,1190 L840,1640 L1160,1810 L1500,1640" stroke-width="1.8"/>
<path d="M840,1190 L960,1160 Q1050,1200 1080,1260 L1090,1310" stroke-width="1.6"/>
<path d="M900,1320 L900,1430 L1080,1540 L1080,1480 L1150,1440 L1250,1390 L1250,1440 L1160,1480 L1160,1810" stroke-width="1.6"/>
<path d="M900,1520 L900,1600 L1080,1700 L1080,1610 Z" stroke-width="1.6"/>
<path d="M860,1190 L1300,920 M1150,1100 L1500,910" stroke-width="1.6"/>
<ellipse cx="1215" cy="1230" rx="80" ry="105" transform="rotate(-20 1215 1230)" stroke-width="1.8"/>
<ellipse cx="1228" cy="1232" rx="45" ry="65" transform="rotate(-20 1228 1232)" stroke-width="1.6"/>
<path d="M1290,1360 L1720,1130 Q1760,1120 1780,1125" stroke-width="1.8"/>
<path d="M1670,1200 Q1660,1400 1560,1590 M1500,1590 L1600,1590 M1740,1030 L1745,1080" stroke-width="1.2"/>
<path d="M440,1600 Q480,1640 540,1640 Q700,1630 840,1650" stroke-width="1.6"/>
<path d="M60,1550 Q80,1520 120,1510 L200,1480 M60,1550 L70,1900 Q80,1923 100,1923 M120,1510 Q150,1600 160,1800" stroke-width="1.6"/>
<path d="M180,1923 L530,1690" stroke-width="3"/>
<path d="M450,1600 L480,1640 L520,1690 M540,1640 L570,1610 L820,1470" stroke-width="1.6"/>
</g>
<g transform="translate(1310,160) scale(0.135205)">
<path d="M165,345 Q150,360 155,420 Q170,520 200,620 Q230,720 270,800 Q320,900 380,980 Q440,1050 500,1100 Q550,1140 600,1170 L2145,2139" stroke-width="1.9"/>
<path d="M560,960 Q620,1030 700,1080 L2145,1990" stroke-width="1.2"/>
<path d="M165,340 Q190,335 210,350 Q225,380 230,450 Q245,560 280,660 Q320,760 375,840 Q395,860 410,845 Q420,820 400,760 Q360,640 340,530 Q330,440 345,370 Q360,300 390,260" stroke-width="1.7"/>
<path d="M225,345 L390,260" stroke-width="1.4"/>
<path d="M550,130 Q470,210 430,320 Q400,430 405,560 Q420,700 470,800 Q510,890 560,950 Q600,990 650,1030" stroke-width="1.3"/>
<path d="M480,120 Q600,110 700,130 Q820,160 960,210 L1700,648" stroke-width="1.9"/>
<path d="M900,210 Q885,300 892,450 Q905,580 980,680 Q1050,770 1150,840 Q1220,890 1300,925 L1700,1127" stroke-width="1.9"/>
<path d="M1000,200 L1700,594 M1220,70 L1700,350" stroke-width="1.1"/>
<path d="M695,1135 L1005,1330 L1005,1385 L700,1190 Z" stroke-width="1.7"/>
<path d="M1110,1390 L1525,1640 L1525,1705 L1110,1450 Z" stroke-width="1.7"/>
<path d="M1635,1715 L1923,1890 M1635,1715 L1635,1775 L1870,1923" stroke-width="1.7"/>
<path d="M135,20 L130,280 Q135,300 160,300 L195,290 L200,80 Q190,20 170,0" stroke-width="1.7"/>
<path d="M180,300 L470,120" stroke-width="3"/>
<path d="M720,0 L720,80 L960,210 M970,0 L970,200 M1000,200 L1220,70 L1290,35" stroke-width="1.5"/>
</g>
<path d="M1320.8,329 L1369.5,301.3" stroke-width="1.2" vector-effect="none"/>
<g transform="translate(1540,160) scale(0.135205)">
<path d="M755,165 L760,250 L1340,560 M755,165 L780,160 L1380,480 M780,160 L1350,470" stroke-width="1.7"/>
<path d="M0,350 L640,730" stroke-width="1.1"/>
<path d="M0,600 L530,890 Q560,885 565,850 L570,800 L620,780" stroke-width="1.5"/>
<path d="M0,640 L580,965 Q620,985 640,1050 L640,1160 L760,1220 L990,1090" stroke-width="1.8"/>
<path d="M580,790 L910,600 L1010,650 L1010,830 M580,790 L580,880 M610,800 L700,780 L750,800 L760,1220 M770,800 L985,680" stroke-width="1.7"/>
<path d="M700,800 Q700,900 650,950 Q620,970 590,970" stroke-width="1.5"/>
<ellipse cx="692" cy="1095" rx="28" ry="40" transform="rotate(0 692 1095)" stroke-width="1.6"/>
<path d="M915,880 L1010,830 L1320,1000 M915,880 L915,1030 L1350,1270 M915,880 L1290,1090" stroke-width="1.7"/>
<path d="M0,1120 L1340,1810" stroke-width="1.9"/>
<path d="M1340,490 L1340,690 M1380,480 L1460,520 L1470,1400 M1510,560 L1520,1500 M1460,520 L1510,560" stroke-width="1.7"/>
<ellipse cx="1355" cy="870" rx="90" ry="140" transform="rotate(-15 1355 870)" stroke-width="1.7"/>
<ellipse cx="1370" cy="880" rx="62" ry="108" transform="rotate(-15 1370 880)" stroke-width="1.5"/>
<ellipse cx="1118" cy="530" rx="30" ry="45" transform="rotate(0 1118 530)" stroke-width="1.5"/>
<path d="M1140,575 L1250,530 M1100,620 L1100,760 L1250,840 M1100,620 L1160,590 L1280,540 M1160,590 L1160,700 L1320,780" stroke-width="1.6"/>
<path d="M1290,1050 L1290,1100 L1360,1150 L1360,1400 L1510,1500 M1410,1150 L1410,1380 L1470,1400 M1290,1050 L1460,960" stroke-width="1.6"/>
<path d="M1520,1340 L1923,1100 M1520,1340 L1580,1370 L1580,1420 L1923,1230 M1610,1420 L1610,1560 L1923,1380" stroke-width="1.6"/>
<path d="M1480,910 L1923,640 M1500,880 L1800,700 M1800,700 L1923,760" stroke-width="1.5"/>
<ellipse cx="1915" cy="1070" rx="25" ry="40" transform="rotate(0 1915 1070)" stroke-width="1.5"/>
</g>
<g transform="translate(1600,380) scale(0.208008)">
<path d="M0,230 Q150,310 300,380 Q420,440 500,450 Q560,450 580,400 L590,370 L590,0" stroke-width="1.9"/>
<path d="M0,340 Q60,390 100,440 L130,470 L80,500 L70,540 L25,580 L20,920 L40,940 Q70,1020 120,1080 Q200,1140 300,1180 L520,1260" stroke-width="1.9"/>
<path d="M240,430 L115,375 L145,470" stroke-width="1.6"/>
<path d="M250,440 Q380,490 480,500 Q560,500 600,460 Q625,430 630,380 L630,60 L660,75 L670,680" stroke-width="1.7"/>
<path d="M700,100 L700,680 M590,0 L710,60 L720,100" stroke-width="1.7"/>
<path d="M710,60 Q900,10 1050,10 Q1250,20 1360,100" stroke-width="1.8"/>
<path d="M720,100 Q900,45 1050,40 Q1200,50 1350,130" stroke-width="1.8"/>
<path d="M1100,70 Q1130,200 1140,340" stroke-width="1.1"/>
<path d="M1310,200 L1540,130 M1310,200 L1400,280 L1560,190 M1400,280 L1400,240" stroke-width="1.6"/>
<path d="M745,565 Q950,440 1130,360 Q1250,350 1490,510" stroke-width="1.5"/>
<path d="M745,570 Q1000,510 1120,525 Q1250,545 1490,730" stroke-width="1.8"/>
<path d="M745,610 Q950,560 1070,565" stroke-width="1.6"/>
<path d="M1480,500 L1510,1260 L1550,1270 L1560,640 M1480,500 L1590,460 M1480,580 L1530,560 L1560,600 L1560,640 M1590,460 L1590,680 M1590,460 L1750,390 M1590,680 L1740,590" stroke-width="1.7"/>
<path d="M1560,890 L1740,760" stroke-width="1.1"/>
<path d="M80,615 L80,850 L330,710 M80,615 L330,480 M135,580 L135,545 L315,450" stroke-width="1.6"/>
<path d="M160,880 L330,780 M160,880 L160,900 L240,940 L330,890 M180,920 L180,1000 L240,1030 L330,985 M240,940 L240,1030" stroke-width="1.5"/>
<path d="M90,930 Q100,990 160,1000 L160,970" stroke-width="1.3"/>
<path d="M330,660 L650,490 M330,660 L330,970 L520,1020 L520,1250 M330,660 L400,690 M370,750 L370,930 L540,1020 M520,1020 L840,850" stroke-width="1.8"/>
<ellipse cx="460" cy="735" rx="72" ry="95" transform="rotate(-20 460 735)" stroke-width="1.8"/>
<path d="M520,770 A48,66 -20 1 0 505,810" stroke-width="1.5"/>
<path d="M400,910 L510,850 M430,680 L650,560" stroke-width="1.3"/>
<path d="M390,1050 Q420,1040 470,1060 L470,1090 M390,1120 Q420,1100 470,1120 L470,1150 M390,1180 Q420,1165 470,1190" stroke-width="1.5"/>
<path d="M540,1180 L840,1020 M570,1240 L840,1090 M520,1250 L570,1240" stroke-width="1.6"/>
<path d="M600,740 L1050,520 M600,740 L600,860 L640,900 L690,875 L690,740 L640,765 L600,740 M640,765 L640,900" stroke-width="1.7"/>
<path d="M740,790 L1180,570 M750,840 L1200,620 M780,900 L1270,640 M740,790 L740,830 L760,845" stroke-width="1.5"/>
<path d="M880,880 L1030,850 L1220,955 L1160,990 L930,1050 L930,900 L880,880 M1040,850 L1040,900 L1160,960 M930,900 L1030,850" stroke-width="1.6"/>
<path d="M680,950 L700,1020 L770,1020 L770,980 L840,1020 L840,1070 L900,1140 L1150,1000" stroke-width="1.6"/>
<path d="M1050,1020 L1050,1110 L1110,1140 L1110,1330 L1160,1340 L1210,1310 L1210,1240 L1260,1210 L1260,1390 L1442,1492" stroke-width="1.7"/>
<ellipse cx="1365" cy="1320" rx="72" ry="90" transform="rotate(-20 1365 1320)" stroke-width="1.8"/>
<path d="M1420,1300 A45,62 -20 1 0 1410,1360" stroke-width="1.5"/>
<path d="M1260,1130 L1320,1080 M1265,1130 L1265,1280 M1160,1100 L1160,1230 L1210,1240" stroke-width="1.5"/>
<path d="M1180,1000 L1442,860 M1200,1050 L1442,920 M1260,1130 L1442,1030" stroke-width="1.4"/>
<path d="M1150,1000 Q1200,1030 1210,1100" stroke-width="1.3"/>
</g>
<g transform="translate(1700,100) scale(0.228289)">
<path d="M160,570 L165,1100 M195,590 L198,1220" stroke-width="1.7"/>
<path d="M60,900 L60,920 L100,940 L100,1090 L165,1130 M60,900 L165,845" stroke-width="1.6"/>
<path d="M420,900 L570,830 M445,940 L590,865" stroke-width="1.6"/>
<ellipse cx="440" cy="905" rx="22" ry="33" transform="rotate(0 440 905)" stroke-width="1.6"/>
<path d="M460,790 L540,780 L750,1010 M460,790 L460,840 L700,975" stroke-width="1.6"/>
<path d="M200,1050 Q350,1025 500,1025 Q600,1030 670,1055 M200,1100 Q350,1075 500,1070 Q600,1075 660,1095" stroke-width="1.8"/>
<path d="M200,1050 L200,1110 L260,1140 L260,1185 L460,1070" stroke-width="1.6"/>
<path d="M560,1180 L600,1120 L780,1020 M600,1120 L640,1180 L640,1226" stroke-width="1.6"/>
<path d="M100,1220 L190,1160" stroke-width="1.6"/>
<ellipse cx="720" cy="1190" rx="55" ry="80" transform="rotate(-15 720 1190)" stroke-width="1.7"/>
<ellipse cx="730" cy="1200" rx="35" ry="55" transform="rotate(-15 730 1200)" stroke-width="1.5"/>
</g>
<g transform="translate(1900,580) scale(0.129400)">
<path d="M1420,600 Q1500,680 1550,780 L1555,840 L1625,1180 L1630,1240 Q1600,1350 1540,1460 Q1450,1580 1250,1700 L1040,1800 L1020,1790 L940,1750 L940,1560" stroke-width="1.9"/>
<path d="M1550,840 Q1530,950 1450,1050 Q1300,1180 1030,1320" stroke-width="1.2"/>
<path d="M1615,1200 Q1580,1320 1500,1420 Q1350,1560 1040,1680" stroke-width="1.9"/>
<path d="M1030,1320 L1040,1500 L1055,1680 M1040,1680 L1030,1700 L1035,1800" stroke-width="1.3"/>
<path d="M880,1400 L880,1530 L930,1560 L980,1530 L975,1390 L930,1410 L880,1400 M930,1410 L930,1560" stroke-width="1.7"/>
<path d="M0,740 L710,330 M0,850 L340,1040 L340,1380 L420,1430 L530,1370 L600,1410 L600,1500 L690,1550 L870,1450" stroke-width="1.9"/>
<path d="M170,490 L105,450 L105,0 M170,490 L670,200 M170,490 L175,0" stroke-width="1.9"/>
<path d="M0,180 L100,130 M0,280 L100,230 M0,330 L100,280" stroke-width="1.5"/>
<path d="M250,780 L250,890 L310,920 L310,810 L720,580 M250,780 L700,520 M310,810 L730,610" stroke-width="1.6"/>
<path d="M360,840 L360,950 L410,970 L410,860 L730,680 M360,840 L720,620 M410,970 L750,780" stroke-width="1.6"/>
<path d="M440,980 L440,1200 L730,1370 L840,1310 M440,980 L720,1030 M470,1170 L720,1030" stroke-width="1.4"/>
<path d="M420,1290 L420,1430 M690,1440 L690,1550 M730,1370 L730,1440 L840,1380" stroke-width="1.5"/>
</g>
<text x="49.65" y="1072.4" font-size="36.23" text-anchor="middle">1</text>
<text x="683.7" y="685.7" font-size="35.94" text-anchor="middle">2</text>
<text x="348.25" y="1601.7" font-size="36.52" text-anchor="middle">16</text>
<text x="1025.95" y="131.5" font-size="36.23" text-anchor="middle">4</text>
<text x="997.35" y="520.8" font-size="36.96" text-anchor="middle">3</text>
<text x="1253.05" y="584.4" font-size="35.07" text-anchor="middle">6</text>
<text x="1171.6" y="906.9" font-size="36.09" text-anchor="middle">8</text>
<text x="1172.05" y="1065.9" font-size="34.78" text-anchor="middle">9</text>
<text x="1663" y="1099.3" font-size="34.49" text-anchor="middle">10</text>
<text x="1662.45" y="1291.9" font-size="34.49" text-anchor="middle">12</text>
<text x="1662.45" y="1441" font-size="34.49" text-anchor="middle">13</text>
<text x="1772.3" y="1035.7" font-size="35.94" text-anchor="middle">11</text>
<text x="2074.95" y="105.5" font-size="36.96" text-anchor="middle">7</text>
<text x="1381.2" y="2059.3" font-size="36.23" text-anchor="middle">15</text>
<text x="1537.15" y="2148.3" font-size="36.67" text-anchor="middle">14</text>
<text x="1303.4" y="355" font-size="36.23" text-anchor="middle">5</text>
</svg>
</body></html>
